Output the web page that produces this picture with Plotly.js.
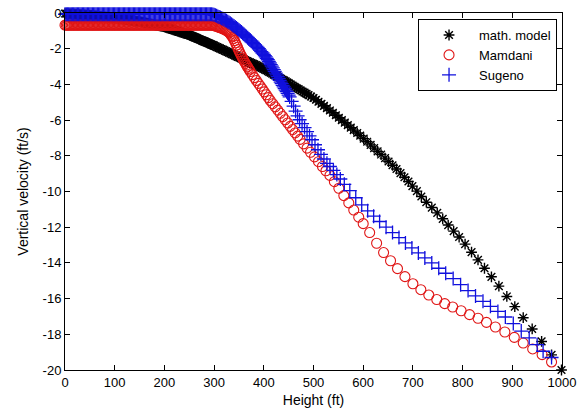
<!DOCTYPE html>
<html>
<head>
<meta charset="utf-8">
<script src="https://cdn.plot.ly/plotly-3.0.1.min.js"></script>
<style>
  html, body { margin: 0; padding: 0; background: #fff; }
  #chart { width: 585px; height: 408px; }
</style>
</head>
<body>
<div id="chart"></div>
<script>
// ---- Data (height in ft, vertical velocity in ft/s) ----
const seriesNames = ['math. model', 'Mamdani', 'Sugeno'];

// low-altitude samples (0 - 297.5 ft) are very dense in all three series
const lowH = [0,2.5,5,7.5,10,12.5,15,17.5,20,22.5,25,27.5,30,32.5,35,37.5,40,42.5,45,47.5,
  50,52.5,55,57.5,60,62.5,65,67.5,70,72.5,75,77.5,80,82.5,85,87.5,90,92.5,95,97.5,
  100,102.5,105,107.5,110,112.5,115,117.5,120,122.5,125,127.5,130,132.5,135,137.5,140,142.5,145,147.5,
  150,152.5,155,157.5,160,162.5,165,167.5,170,172.5,175,177.5,180,182.5,185,187.5,190,192.5,195,197.5,
  200,202.5,205,207.5,210,212.5,215,217.5,220,222.5,225,227.5,230,232.5,235,237.5,240,242.5,245,247.5,
  250,252.5,255,257.5,260,262.5,265,267.5,270,272.5,275,277.5,280,282.5,285,287.5,290,292.5,295,297.5];

// math. model
const mathLowV = [-0.030,-0.035,-0.040,-0.045,-0.050,-0.055,-0.060,-0.065,-0.070,-0.075,-0.080,-0.085,-0.090,-0.095,-0.100,-0.105,-0.110,-0.115,-0.120,-0.125,
  -0.130,-0.138,-0.145,-0.153,-0.160,-0.168,-0.175,-0.183,-0.190,-0.198,-0.205,-0.213,-0.220,-0.228,-0.235,-0.243,-0.250,-0.258,-0.265,-0.273,
  -0.28,-0.29,-0.30,-0.31,-0.32,-0.33,-0.34,-0.35,-0.36,-0.37,-0.38,-0.39,-0.40,-0.41,-0.42,-0.43,-0.44,-0.45,-0.46,-0.47,
  -0.480,-0.495,-0.510,-0.525,-0.540,-0.555,-0.570,-0.585,-0.600,-0.615,-0.630,-0.645,-0.660,-0.675,-0.690,-0.705,-0.720,-0.735,-0.750,-0.765,
  -0.78,-0.80,-0.825,-0.85,-0.87,-0.89,-0.915,-0.94,-0.96,-0.98,-1.005,-1.03,-1.05,-1.07,-1.095,-1.12,-1.14,-1.16,-1.185,-1.21,
  -1.23,-1.26,-1.29,-1.32,-1.35,-1.38,-1.41,-1.44,-1.47,-1.50,-1.53,-1.56,-1.59,-1.62,-1.65,-1.68,-1.71,-1.74,-1.77,-1.80];
const mathHighH = [300,303,306,309,312,315,318,321,324,327,330,333,336,339,342,345,348,351,354,357,
  360,363,366,369,372,375,378,381,384,387,390,393,396,399,402,405,408,411,414,417,
  420,423,426,429,432,435,438,441,444,447,450,454,458,462,466,470,474,478,482,486,490,495,
  500,505,510,516,521,527,533,539,545,551,557,563,569,575,581,588,594,601,608,615,
  622,629,636,644,651,659,667,675,683,691,699,708,717,727,738,749,760,771,782,793,
  805,818,831,844,858,873,889,905,922,940,959,979,999];
const mathHighV = [-1.83,-1.87,-1.91,-1.95,-1.99,-2.03,-2.06,-2.10,-2.14,-2.18,-2.22,-2.26,-2.30,-2.34,-2.38,-2.42,-2.46,-2.49,-2.53,-2.57,
  -2.61,-2.65,-2.69,-2.73,-2.77,-2.81,-2.85,-2.88,-2.92,-2.96,-3.00,-3.04,-3.08,-3.12,-3.16,-3.21,-3.26,-3.30,-3.35,-3.40,
  -3.45,-3.50,-3.54,-3.59,-3.64,-3.69,-3.74,-3.78,-3.83,-3.88,-3.93,-4.00,-4.06,-4.13,-4.20,-4.26,-4.33,-4.40,-4.46,-4.53,-4.60,-4.68,
  -4.76,-4.86,-4.97,-5.09,-5.20,-5.33,-5.46,-5.59,-5.73,-5.87,-6.00,-6.14,-6.28,-6.42,-6.56,-6.72,-6.87,-7.04,-7.21,-7.39,
  -7.57,-7.75,-7.93,-8.13,-8.32,-8.53,-8.74,-8.97,-9.20,-9.44,-9.70,-9.98,-10.28,-10.60,-10.90,-11.20,-11.53,-11.88,-12.22,-12.55,
  -12.95,-13.40,-13.83,-14.30,-14.78,-15.30,-15.88,-16.45,-17.07,-17.70,-18.40,-19.15,-20.00];

// Mamdani
const mamdaniLowV = [-0.68,-0.68,-0.68,-0.68,-0.68,-0.68,-0.68,-0.68,-0.68,-0.68,-0.68,-0.68,-0.68,-0.68,-0.68,-0.68,-0.68,-0.68,-0.68,-0.68,
  -0.68,-0.68,-0.68,-0.68,-0.68,-0.68,-0.68,-0.68,-0.68,-0.68,-0.68,-0.68,-0.68,-0.68,-0.68,-0.68,-0.68,-0.68,-0.68,-0.68,
  -0.68,-0.68,-0.68,-0.68,-0.68,-0.68,-0.68,-0.68,-0.68,-0.68,-0.68,-0.68,-0.68,-0.68,-0.68,-0.68,-0.68,-0.68,-0.68,-0.68,
  -0.68,-0.68,-0.68,-0.68,-0.68,-0.68,-0.68,-0.68,-0.68,-0.68,-0.68,-0.68,-0.68,-0.68,-0.68,-0.68,-0.68,-0.68,-0.68,-0.68,
  -0.68,-0.68,-0.68,-0.68,-0.68,-0.68,-0.68,-0.68,-0.68,-0.68,-0.68,-0.68,-0.68,-0.68,-0.68,-0.68,-0.68,-0.68,-0.68,-0.68,
  -0.68,-0.68,-0.68,-0.68,-0.68,-0.68,-0.68,-0.68,-0.68,-0.68,-0.68,-0.68,-0.68,-0.68,-0.68,-0.68,-0.68,-0.68,-0.68,-0.69];
const mamdaniHighH = [300,302.5,305,307.5,310,312.5,315,317.5,320,322.5,325,
  327,329,331,333,335,337,339,341,343,345,347,349,351,353,355,357,359,361,363,365,367,369,371,373,
  377,381,385,389,393,397,401,405,409,413,
  418,423,428,433,438,443,448,453,458,463,468,473,
  480,487,494,502,510,518,525,533,542,551,561,571,581,591,600,613,627,641,655,669,684,700,
  716,732,748,764,780,797,814,831,848,866,885,904,922,941,960,979];
const mamdaniHighV = [-0.71,-0.73,-0.75,-0.775,-0.80,-0.825,-0.85,-0.88,-0.91,-0.945,-0.98,
  -1.02,-1.06,-1.11,-1.18,-1.26,-1.34,-1.44,-1.55,-1.67,-1.80,-1.92,-2.05,-2.18,-2.30,-2.41,-2.52,-2.62,-2.72,-2.82,-2.92,-3.01,-3.10,-3.19,-3.28,
  -3.45,-3.62,-3.78,-3.94,-4.10,-4.26,-4.42,-4.58,-4.74,-4.90,
  -5.08,-5.26,-5.44,-5.62,-5.80,-5.98,-6.16,-6.35,-6.53,-6.72,-6.90,-7.08,
  -7.33,-7.57,-7.80,-8.06,-8.33,-8.60,-8.84,-9.10,-9.45,-9.82,-10.23,-10.64,-11.04,-11.44,-11.80,-12.30,-12.90,-13.42,-13.88,-14.32,-14.77,-15.17,
  -15.50,-15.80,-16.05,-16.28,-16.47,-16.68,-16.90,-17.10,-17.33,-17.59,-17.87,-18.17,-18.49,-18.82,-19.14,-19.55];

// Sugeno
const sugenoLowV = [-0.07,-0.07,-0.07,-0.07,-0.07,-0.07,-0.07,-0.07,-0.07,-0.07,-0.07,-0.07,-0.07,-0.07,-0.07,-0.07,-0.07,-0.07,-0.07,-0.07,
  -0.07,-0.07,-0.07,-0.07,-0.07,-0.07,-0.07,-0.07,-0.07,-0.07,-0.07,-0.07,-0.07,-0.07,-0.07,-0.07,-0.07,-0.07,-0.07,-0.07,
  -0.07,-0.07,-0.07,-0.07,-0.07,-0.07,-0.07,-0.07,-0.07,-0.07,-0.07,-0.07,-0.07,-0.07,-0.07,-0.07,-0.07,-0.07,-0.07,-0.07,
  -0.07,-0.07,-0.07,-0.07,-0.07,-0.07,-0.07,-0.07,-0.07,-0.07,-0.07,-0.07,-0.07,-0.07,-0.07,-0.07,-0.07,-0.07,-0.07,-0.07,
  -0.07,-0.07,-0.07,-0.07,-0.07,-0.07,-0.07,-0.07,-0.07,-0.07,-0.07,-0.07,-0.07,-0.07,-0.07,-0.07,-0.07,-0.07,-0.07,-0.07,
  -0.07,-0.07,-0.07,-0.07,-0.07,-0.07,-0.07,-0.07,-0.07,-0.07,-0.07,-0.07,-0.07,-0.07,-0.07,-0.07,-0.07,-0.07,-0.07,-0.08];
const sugenoHighH = [300,302.5,305,307.5,310,312.5,315,317.5,320,322.5,325,327.5,330,332.5,335,337.5,340,342.5,345,347.5,
  350,352.5,355,357.5,360,362.5,365,367.5,370,372.5,375,377.5,380,382.5,385,387.5,390,392.5,395,397.5,400,
  402,404,406,408,410,412,414,416,418,420,422,424,426,428,430,432,434,436,438,440,442,444,446,448,450,452,
  456,460,464,468,472,477,482,487,492,497,503,509,515,521,527,533,540,547,554,562,
  573,585,597,609,621,633,646,659,672,685,698,711,724,738,752,766,781,796,811,826,
  841,856,871,886,902,918,934,950,962,979];
const sugenoHighV = [-0.10,-0.13,-0.16,-0.19,-0.22,-0.255,-0.29,-0.325,-0.36,-0.40,-0.44,-0.485,-0.53,-0.58,-0.63,-0.68,-0.73,-0.785,-0.84,-0.895,
  -0.95,-1.01,-1.07,-1.13,-1.19,-1.255,-1.32,-1.385,-1.45,-1.515,-1.58,-1.65,-1.72,-1.79,-1.86,-1.93,-2.00,-2.08,-2.16,-2.24,-2.32,
  -2.39,-2.46,-2.54,-2.62,-2.71,-2.80,-2.89,-2.98,-3.07,-3.17,-3.27,-3.37,-3.47,-3.57,-3.67,-3.77,-3.87,-3.96,-4.05,-4.14,-4.23,-4.32,-4.41,-4.50,-4.60,-4.70,
  -4.95,-5.22,-5.50,-5.76,-5.98,-6.20,-6.42,-6.65,-6.88,-7.10,-7.38,-7.66,-7.92,-8.18,-8.42,-8.60,-8.82,-9.05,-9.30,-9.60,
  -9.95,-10.35,-10.75,-11.08,-11.38,-11.68,-12.00,-12.30,-12.58,-12.88,-13.16,-13.44,-13.72,-14.00,-14.30,-14.58,-14.88,-15.22,-15.55,-15.85,
  -16.15,-16.43,-16.72,-17.03,-17.40,-17.82,-18.20,-18.58,-18.95,-19.30];

const xTickVals = [0,100,200,300,400,500,600,700,800,900,1000];
const xTickText = ['0','100','200','300','400','500','600','700','800','900','1000'];
const yTickVals = [0,-2,-4,-6,-8,-10,-12,-14,-16,-18,-20];
const yTickText = ['0','-2','-4','-6','-8','-10','-12','-14','-16','-18','-20'];

// ---- Chart ----
const FONT = 'Liberation Sans, Arial, Helvetica, sans-serif';

const traces = [
  { x: lowH.concat(mathHighH), y: mathLowV.concat(mathHighV), name: seriesNames[0],
    type: 'scatter', mode: 'markers', cliponaxis: false,
    marker: { symbol: 'asterisk-open', size: 9, color: '#000000', line: { width: 1.4, color: '#000000' } } },
  { x: lowH.concat(mamdaniHighH), y: mamdaniLowV.concat(mamdaniHighV), name: seriesNames[1],
    type: 'scatter', mode: 'markers', cliponaxis: false,
    marker: { symbol: 'circle-open', size: 10, color: '#e01515', line: { width: 1.1, color: '#e01515' } } },
  { x: lowH.concat(sugenoHighH), y: sugenoLowV.concat(sugenoHighV), name: seriesNames[2],
    type: 'scatter', mode: 'markers', cliponaxis: false,
    marker: { symbol: 'cross-thin-open', size: 10, color: '#1010dd', line: { width: 1.3, color: '#1010dd' } } }
];

const axisCommon = {
  showgrid: false, zeroline: false, showline: true, linecolor: '#000', linewidth: 1,
  mirror: 'ticks', ticks: 'inside', ticklen: 5, tickwidth: 1, tickcolor: '#000',
  tickfont: { family: FONT, size: 13, color: '#000' }, tickmode: 'array'
};

const layout = {
  width: 585, height: 408,
  margin: { l: 65, r: 23, t: 13, b: 38, pad: 0 },
  paper_bgcolor: '#fff', plot_bgcolor: '#fff',
  font: { family: FONT, size: 13, color: '#000' },
  showlegend: true,
  xaxis: Object.assign({}, axisCommon, {
    range: [0, 1000], tickvals: xTickVals, ticktext: xTickText,
    title: { text: 'Height (ft)', font: { family: FONT, size: 14, color: '#000' }, standoff: 7 }
  }),
  yaxis: Object.assign({}, axisCommon, {
    range: [-20, 0], tickvals: yTickVals, ticktext: yTickText,
    title: { text: 'Vertical velocity (ft/s)', font: { family: FONT, size: 14, color: '#000' }, standoff: 10 }
  }),
  legend: {
    x: 0.99, y: 0.983, xanchor: 'right', yanchor: 'top',
    bgcolor: '#fff', bordercolor: '#000', borderwidth: 1,
    font: { family: FONT, size: 13, color: '#000' },
    itemwidth: 50
  }
};

Plotly.newPlot('chart', traces, layout, { staticPlot: true, displayModeBar: false });
</script>
</body>
</html>
